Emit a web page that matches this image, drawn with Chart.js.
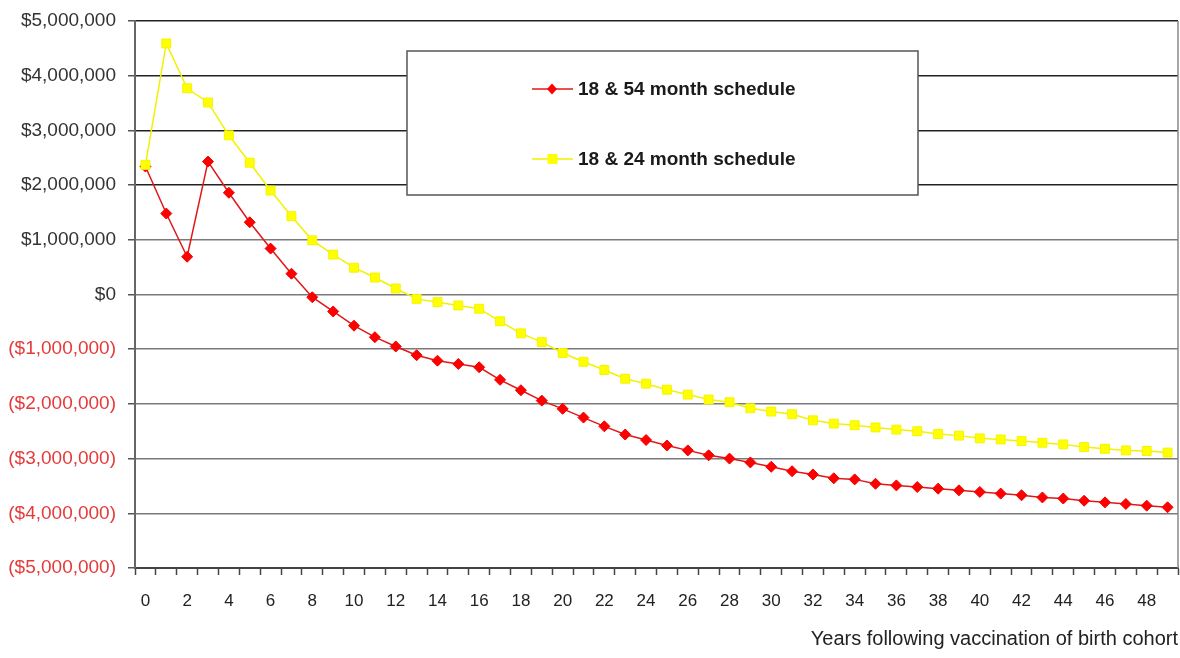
<!DOCTYPE html>
<html><head><meta charset="utf-8">
<script src="https://cdn.jsdelivr.net/npm/chart.js@4.4.0/dist/chart.umd.min.js"></script>
<style>html,body{margin:0;padding:0;background:#fff;overflow:hidden}#wrap{width:1180px;height:658px;position:relative}</style>
</head><body><div id="wrap"><canvas id="c" width="1180" height="658"></canvas></div>
<script>
const years = [0,1,2,3,4,5,6,7,8,9,10,11,12,13,14,15,16,17,18,19,20,21,22,23,24,25,26,27,28,29,30,31,32,33,34,35,36,37,38,39,40,41,42,43,44,45,46,47,48,49];
const seriesNames = ['18 & 54 month schedule', '18 & 24 month schedule'];
const schedule1854 = [2340000,1480000,690000,2430000,1860000,1320000,840000,380000,-50000,-310000,
  -570000,-780000,-950000,-1110000,-1210000,-1270000,-1330000,-1560000,-1750000,-1940000,
  -2090000,-2250000,-2410000,-2560000,-2660000,-2760000,-2850000,-2940000,-3000000,-3070000,
  -3150000,-3230000,-3290000,-3360000,-3380000,-3460000,-3490000,-3520000,-3550000,-3580000,
  -3610000,-3640000,-3670000,-3710000,-3730000,-3770000,-3800000,-3830000,-3860000,-3890000];
const schedule1824 = [2370000,4590000,3770000,3510000,2910000,2410000,1900000,1430000,990000,730000,
  490000,310000,110000,-80000,-140000,-200000,-260000,-490000,-710000,-870000,
  -1070000,-1230000,-1380000,-1540000,-1630000,-1740000,-1830000,-1920000,-1970000,-2080000,
  -2140000,-2190000,-2300000,-2360000,-2390000,-2430000,-2470000,-2500000,-2550000,-2580000,
  -2630000,-2650000,-2680000,-2710000,-2740000,-2790000,-2820000,-2850000,-2860000,-2890000];
const yTickValues = [5000000,4000000,3000000,2000000,1000000,0,-1000000,-2000000,-3000000,-4000000,-5000000];
const yTickLabels = ['$5,000,000','$4,000,000','$3,000,000','$2,000,000','$1,000,000','$0',
  '($1,000,000)','($2,000,000)','($3,000,000)','($4,000,000)','($5,000,000)'];
const xAxisTitle = 'Years following vaccination of birth cohort';

const FONT = "'Liberation Sans', Arial, Helvetica, sans-serif";
const RED = '#ff0000', YEL = '#ffff00', NEG = '#e53a3a';

const legendPlugin = {
  id: 'boxLegend',
  afterDraw(chart) {
    const ctx = chart.ctx, a = chart.chartArea;
    ctx.save();
    ctx.strokeStyle = '#888'; ctx.lineWidth = 1.5;
    ctx.beginPath(); ctx.moveTo(a.right, a.top); ctx.lineTo(a.right, a.bottom); ctx.stroke();
    const bx = 407, by = 51, bw = 511, bh = 144;
    ctx.fillStyle = '#fff'; ctx.fillRect(bx, by, bw, bh);
    ctx.strokeStyle = '#555'; ctx.lineWidth = 1.5; ctx.strokeRect(bx, by, bw, bh);
    const rows = [89, 159];
    seriesNames.forEach((name, i) => {
      const ds = chart.data.datasets.find(d => d.label === name);
      const cy = rows[i];
      ctx.strokeStyle = ds.borderColor; ctx.lineWidth = 1.5;
      ctx.beginPath(); ctx.moveTo(532, cy); ctx.lineTo(573, cy); ctx.stroke();
      ctx.fillStyle = ds.pointBackgroundColor;
      ctx.beginPath();
      if (ds.pointStyle === 'rectRot') {
        ctx.moveTo(552, cy - 5.5); ctx.lineTo(557, cy); ctx.lineTo(552, cy + 5.5); ctx.lineTo(547, cy); ctx.closePath();
      } else {
        ctx.rect(547.5, cy - 5, 10, 10);
      }
      ctx.fill();
      ctx.fillStyle = '#1a1a1a';
      ctx.font = 'bold 19px ' + FONT;
      ctx.textAlign = 'left'; ctx.textBaseline = 'middle';
      ctx.fillText(name, 578, cy + 1);
    });
    ctx.restore();
  }
};

new Chart(document.getElementById('c'), {
  type: 'line',
  data: {
    labels: years,
    datasets: [
      { label: seriesNames[0], data: schedule1854, order: 1,
        borderColor: '#e01818', borderWidth: 1.5, pointStyle: 'rectRot', pointRadius: 5.5,
        pointBackgroundColor: RED, pointBorderColor: '#f00000', pointBorderWidth: 1, tension: 0 },
      { label: seriesNames[1], data: schedule1824, order: 0,
        borderColor: '#f2f200', borderWidth: 1.5, pointStyle: 'rect', pointRadius: 6.3,
        pointBackgroundColor: YEL, pointBorderColor: '#f4f400', pointBorderWidth: 1, tension: 0 }
    ]
  },
  options: {
    responsive: false, animation: false, devicePixelRatio: 1,
    layout: { autoPadding: false, padding: { top: 21, right: 2, left: 0, bottom: 0 } },
    plugins: { legend: { display: false }, tooltip: { enabled: false } },
    scales: {
      x: {
        type: 'category', offset: true,
        grid: { display: true, offset: true, drawOnChartArea: false, drawTicks: true, tickLength: 7, tickColor: '#444', tickWidth: 1.5 },
        border: { display: true, color: '#444', width: 2 },
        ticks: { autoSkip: false, maxRotation: 0, minRotation: 0, padding: 16, color: '#222',
          font: { family: FONT, size: 17 },
          callback: (v, i) => (i % 2 === 0 ? String(years[i]) : '') },
        title: { display: true, text: xAxisTitle, align: 'end', color: '#222',
          font: { family: FONT, size: 20 }, padding: { top: 4, bottom: 7 } },
        afterFit: s => { s.height = 90; s.paddingRight = 0; s.paddingLeft = 0; }
      },
      y: {
        min: -5000000, max: 5000000,
        afterBuildTicks: s => { s.ticks = yTickValues.map(v => ({ value: v })); },
        grid: { color: c => (c.tick && c.tick.value >= 2000000 ? '#222' : '#7a7a7a'), lineWidth: 1.5,
          drawTicks: true, tickLength: 7, tickColor: '#555' },
        border: { display: true, color: '#666', width: 2 },
        ticks: { padding: 12, font: { family: FONT, size: 19 },
          color: c => (c.tick && c.tick.value < 0 ? NEG : '#333'),
          callback: v => { const i = yTickValues.indexOf(v); return i >= 0 ? yTickLabels[i] : ''; } },
        afterFit: s => { s.width = 135; s.paddingTop = 0; s.paddingBottom = 0; }
      }
    }
  },
  plugins: [legendPlugin]
});
</script></body></html>
